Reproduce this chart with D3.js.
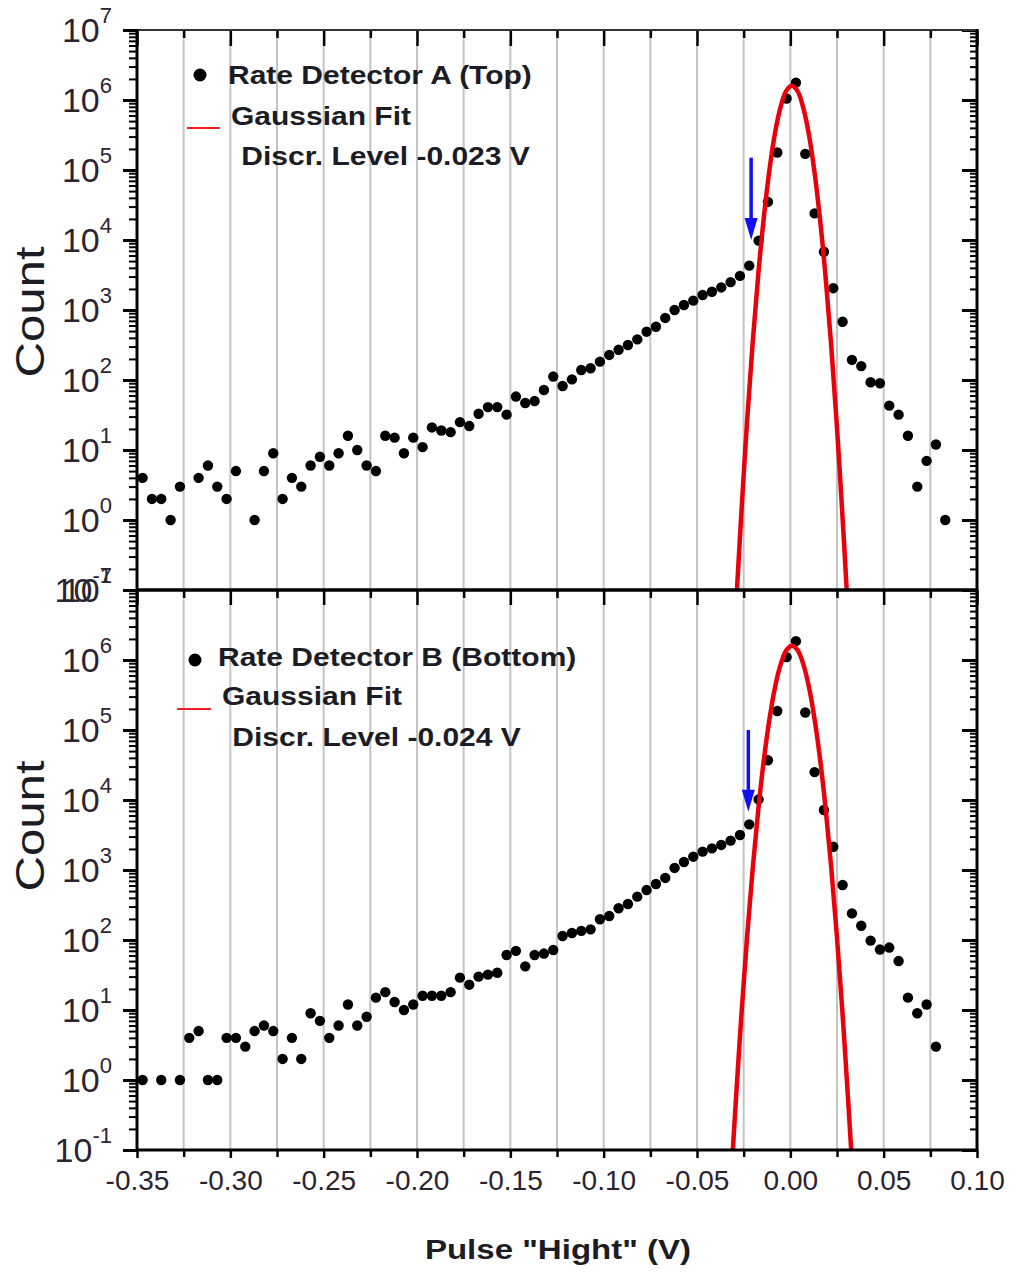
<!DOCTYPE html>
<html>
<head>
<meta charset="utf-8">
<script src="https://cdn.jsdelivr.net/npm/d3@7"></script>
<style>
body { margin: 0; background: #fff; }
svg { display: block; }
.ylab, .xlab { font-family: "Liberation Sans", Arial, sans-serif; fill: #2b2430; }
.legend { font-family: "Liberation Sans", Arial, sans-serif; font-weight: bold; font-size: 25px; fill: #1c1c24; }
.title { font-family: "Liberation Sans", Arial, sans-serif; fill: #1c1c24; }
</style>
</head>
<body>
<script>
// bin centres (V)
var pulse = [-0.347, -0.342, -0.337, -0.332, -0.327, -0.322, -0.317, -0.312, -0.307, -0.302,
  -0.297, -0.292, -0.287, -0.282, -0.277, -0.272, -0.267, -0.262, -0.257, -0.252,
  -0.247, -0.242, -0.237, -0.232, -0.227, -0.222, -0.217, -0.212, -0.207, -0.202,
  -0.197, -0.192, -0.187, -0.182, -0.177, -0.172, -0.167, -0.162, -0.157, -0.152,
  -0.147, -0.142, -0.137, -0.132, -0.127, -0.122, -0.117, -0.112, -0.107, -0.102,
  -0.097, -0.092, -0.087, -0.082, -0.077, -0.072, -0.067, -0.062, -0.057, -0.052,
  -0.047, -0.042, -0.037, -0.032, -0.027, -0.022, -0.017, -0.012, -0.007, -0.002,
  0.003, 0.008, 0.013, 0.018, 0.023, 0.028, 0.033, 0.038, 0.043, 0.048,
  0.053, 0.058, 0.063, 0.068, 0.073, 0.078, 0.083];

// detector A (top)
var countA = [4, 2, 2, 1, 3, null, 4, 6, 3, 2,
  5, null, 1, 5, 9, 2, 4, 3, 6, 8,
  6, 9, 16, 10, 6, 5, 16, 15, 9, 15,
  11, 21, 19, 18, 25, 22, 33, 41, 41, 32,
  58, 47, 50, 72, 112, 82, 102, 139, 147, 183,
  228, 270, 316, 380, 490, 577, 770, 1000, 1180, 1360,
  1640, 1820, 2100, 2500, 3070, 4300, 9800, 35000, 178000, 1050000,
  1770000, 170000, 24000, 6800, 2050, 680, 194, 158, 93, 90,
  43, 32, 16, 3, 7, 12, 1];

// detector B (bottom)
var countB = [1, null, 1, null, 1, 4, 5, 1, 1, 4,
  4, 3, 5, 6, 5, 2, 4, 2, 9, 7,
  4, 6, 12, 6, 8, 15, 18, 13, 10, 12,
  16, 16, 16, 18, 29, 23, 30, 32, 34, 61,
  70, 42, 61, 64, 72, 114, 126, 135, 142, 198,
  220, 284, 327, 416, 517, 630, 770, 1070, 1300, 1550,
  1830, 2040, 2280, 2630, 3160, 4490, 10200, 37000, 187000, 1100000,
  1860000, 178000, 25000, 7200, 2150, 610, 240, 160, 98, 73,
  78, 50, 15, 9, 12, 3, null];

// gaussian fit curves
var fitAx = [-0.0286, -0.0262, -0.0232, -0.0202, -0.0172, -0.0142, -0.0112, -0.0082, -0.0052, -0.0022, 0.0008,
  0.0038, 0.0068, 0.0098, 0.0128, 0.0158, 0.0188, 0.0218, 0.0248, 0.0278, 0.0302];
var fitAy = [0.1, 1.3, 25, 333, 3160, 21000, 100000, 340000, 800000, 1350000, 1600000,
  1350000, 800000, 340000, 100000, 21000, 3160, 333, 25, 1.3, 0.1];
var fitBx = [-0.0308, -0.0291, -0.0261, -0.0231, -0.0201, -0.0171, -0.0141, -0.0111, -0.0081, -0.0051, -0.0021, 0.0009,
  0.0039, 0.0069, 0.0099, 0.0129, 0.0159, 0.0189, 0.0219, 0.0249, 0.0279, 0.0309, 0.0326];
var fitBy = [0.1, 0.55, 9.4, 117, 1090, 7600, 39000, 148000, 420000, 880000, 1380000, 1600000,
  1380000, 880000, 420000, 148000, 39000, 7600, 1090, 117, 9.4, 0.55, 0.1];

// discriminator arrows: [x, from count, to count]
var arrowA = [-0.021, 150000, 10000];
var arrowB = [-0.0225, 100000, 6800];

var legendA = ["Rate Detector A (Top)", "Gaussian Fit", " Discr. Level -0.023 V"];
var legendB = ["Rate Detector B (Bottom)", "Gaussian Fit", " Discr. Level -0.024 V"];

var xTicks = [-0.35, -0.30, -0.25, -0.20, -0.15, -0.10, -0.05, 0.00, 0.05, 0.10];
var xMinor = [-0.325, -0.275, -0.225, -0.175, -0.125, -0.075, -0.025, 0.025, 0.075];
var decades = [-1, 0, 1, 2, 3, 4, 5, 6, 7];

var width = 1016, height = 1272;
var svg = d3.select("body").append("svg")
  .attr("width", width)
  .attr("height", height);
svg.append("rect").attr("width", width).attr("height", height).attr("fill", "#fff");

var x = d3.scaleLinear().domain([-0.35, 0.10]).range([137, 977]);
var yA = d3.scaleLog().domain([0.1, 1e7]).range([590, 30]);
var yB = d3.scaleLog().domain([0.1, 1e7]).range([1150, 590]);

var majorVals = decades.map(function(d) { return Math.pow(10, d); });
var minorVals = [];
decades.slice(0, -1).forEach(function(d) {
  for (var m = 2; m <= 9; m++) minorVals.push(m * Math.pow(10, d));
});

// vertical grid through both panels
svg.append("g")
  .selectAll("line")
  .data(xTicks.slice(1, -1).concat(xMinor))
  .enter().append("line")
  .attr("x1", function(d) { return x(d); })
  .attr("x2", function(d) { return x(d); })
  .attr("y1", 30).attr("y2", 1150)
  .attr("stroke", "#c4c4c4")
  .attr("stroke-width", 2);

var panels = [
  { y: yA, counts: countA, fx: fitAx, fy: fitAy, arrow: arrowA, legend: legendA,
    lx: 200, ly: 75, rx: [187, 220], ry: 128, tx: [228, 231, 233], ty: [84, 125, 165], cy: 312, id: "A" },
  { y: yB, counts: countB, fx: fitBx, fy: fitBy, arrow: arrowB, legend: legendB,
    lx: 195, ly: 660, rx: [177, 211], ry: 709, tx: [218, 222, 224], ty: [666, 705, 746], cy: 826, id: "B" }
];

panels.forEach(function(p) {
  var y = p.y;
  var r = y.range();

  svg.append("clipPath").attr("id", "clip" + p.id)
    .append("rect")
    .attr("x", 137).attr("y", r[1])
    .attr("width", 840).attr("height", r[0] - r[1]);

  // data points
  var pts = pulse.map(function(v, i) { return { x: v, c: p.counts[i] }; })
    .filter(function(d) { return d.c != null; });
  svg.append("g")
    .selectAll("circle")
    .data(pts)
    .enter().append("circle")
    .attr("cx", function(d) { return x(d.x); })
    .attr("cy", function(d) { return y(d.c); })
    .attr("r", 5.2)
    .attr("fill", "#000");

  // gaussian fit
  var fit = p.fx.map(function(v, i) { return [v, p.fy[i]]; });
  svg.append("path")
    .datum(fit)
    .attr("clip-path", "url(#clip" + p.id + ")")
    .attr("d", d3.line()
      .x(function(d) { return x(d[0]); })
      .y(function(d) { return y(d[1]); })
      .curve(d3.curveCatmullRom))
    .attr("fill", "none")
    .attr("stroke", "#e8000b")
    .attr("stroke-width", 4.5);

  // discriminator arrow
  var ax = x(p.arrow[0]), a0 = y(p.arrow[1]), a1 = y(p.arrow[2]);
  svg.append("line")
    .attr("x1", ax).attr("x2", ax)
    .attr("y1", a0).attr("y2", a1 - 18)
    .attr("stroke", "#1010f0").attr("stroke-width", 3.5);
  svg.append("path")
    .attr("d", "M" + (ax - 6.5) + "," + (a1 - 22) + "L" + (ax + 6.5) + "," + (a1 - 22) + "L" + ax + "," + a1 + "Z")
    .attr("fill", "#1010f0");

  // legend (text drawn a bit wide like the original)
  svg.append("circle").attr("cx", p.lx).attr("cy", p.ly).attr("r", 6.5).attr("fill", "#000");
  svg.append("line")
    .attr("x1", p.rx[0]).attr("x2", p.rx[1])
    .attr("y1", p.ry).attr("y2", p.ry)
    .attr("stroke", "#ee2222").attr("stroke-width", 1.8);
  p.legend.forEach(function(t, i) {
    svg.append("text").attr("class", "legend")
      .attr("transform", "translate(" + p.tx[i] + "," + p.ty[i] + ") scale(1.2,1)")
      .attr("xml:space", "preserve")
      .text(t);
  });

  // y axes: left ticks outward, right ticks inward
  [[137, 14, 8], [977, 15, 7]].forEach(function(s) {
    svg.append("g")
      .attr("transform", "translate(" + s[0] + ",0)")
      .call(d3.axisLeft(y).tickValues(minorVals).tickSize(s[2]).tickSizeOuter(0).tickFormat(""))
      .call(function(g) { g.select(".domain").remove(); g.selectAll("line").attr("stroke-width", 2); });
    svg.append("g")
      .attr("transform", "translate(" + s[0] + ",0)")
      .call(d3.axisLeft(y).tickValues(majorVals).tickSize(s[1]).tickSizeOuter(0).tickFormat(""))
      .call(function(g) { g.select(".domain").remove(); g.selectAll("line").attr("stroke-width", 3); });
  });

  // y labels 10^n
  var lab = svg.append("g").selectAll("text")
    .data(decades)
    .enter().append("text")
    .attr("class", "ylab")
    .attr("x", 112)
    .attr("y", function(d) { return y(Math.pow(10, d)) + 12; })
    .attr("text-anchor", "end")
    .style("font-size", "34px");
  lab.append("tspan").text("10");
  lab.append("tspan")
    .attr("dy", -19)
    .style("font-size", "22px")
    .text(function(d) { return d; });

  svg.append("text").attr("class", "title")
    .attr("transform", "translate(44," + p.cy + ") rotate(-90) scale(1.2,1)")
    .attr("text-anchor", "middle")
    .style("font-size", "41px")
    .text("Count");
});

// horizontal axes: ticks inward on top edge and on the panel divider, outward at the bottom
function xAxisAt(yPos, majLen, minLen, labels) {
  var g = svg.append("g").attr("transform", "translate(0," + yPos + ")");
  g.call(d3.axisBottom(x).tickValues(xMinor).tickSize(minLen).tickSizeOuter(0).tickFormat(""))
    .call(function(s) { s.select(".domain").remove(); s.selectAll("line").attr("stroke-width", 2.5); });
  var g2 = svg.append("g").attr("transform", "translate(0," + yPos + ")");
  g2.call(d3.axisBottom(x).tickValues(xTicks).tickSize(majLen).tickSizeOuter(0)
      .tickPadding(12)
      .tickFormat(labels ? function(d) { return d.toFixed(2); } : ""))
    .call(function(s) { s.select(".domain").remove(); s.selectAll("line").attr("stroke-width", 2.5); });
  g2.selectAll("text").attr("class", "xlab").style("font-size", "28px").attr("fill", "#2b2430");
}
xAxisAt(30, 16, 8, false);
xAxisAt(590, 15, 8, false);
xAxisAt(1150, 8, 7, true);

// frame
svg.append("line").attr("x1", 136).attr("x2", 978).attr("y1", 30).attr("y2", 30).attr("stroke", "#333").attr("stroke-width", 2);
svg.append("line").attr("x1", 136).attr("x2", 978).attr("y1", 590).attr("y2", 590).attr("stroke", "#000").attr("stroke-width", 3.5);
svg.append("line").attr("x1", 136).attr("x2", 978).attr("y1", 1150).attr("y2", 1150).attr("stroke", "#000").attr("stroke-width", 3);
svg.append("line").attr("x1", 137).attr("x2", 137).attr("y1", 29).attr("y2", 1151).attr("stroke", "#000").attr("stroke-width", 3);
svg.append("line").attr("x1", 977).attr("x2", 977).attr("y1", 29).attr("y2", 1151).attr("stroke", "#000").attr("stroke-width", 3);

svg.append("text").attr("class", "title")
  .attr("transform", "translate(558,1259) scale(1.18,1)")
  .attr("text-anchor", "middle")
  .style("font-size", "28px").style("font-weight", "bold")
  .text("Pulse \"Hight\" (V)");
</script>
</body>
</html>
